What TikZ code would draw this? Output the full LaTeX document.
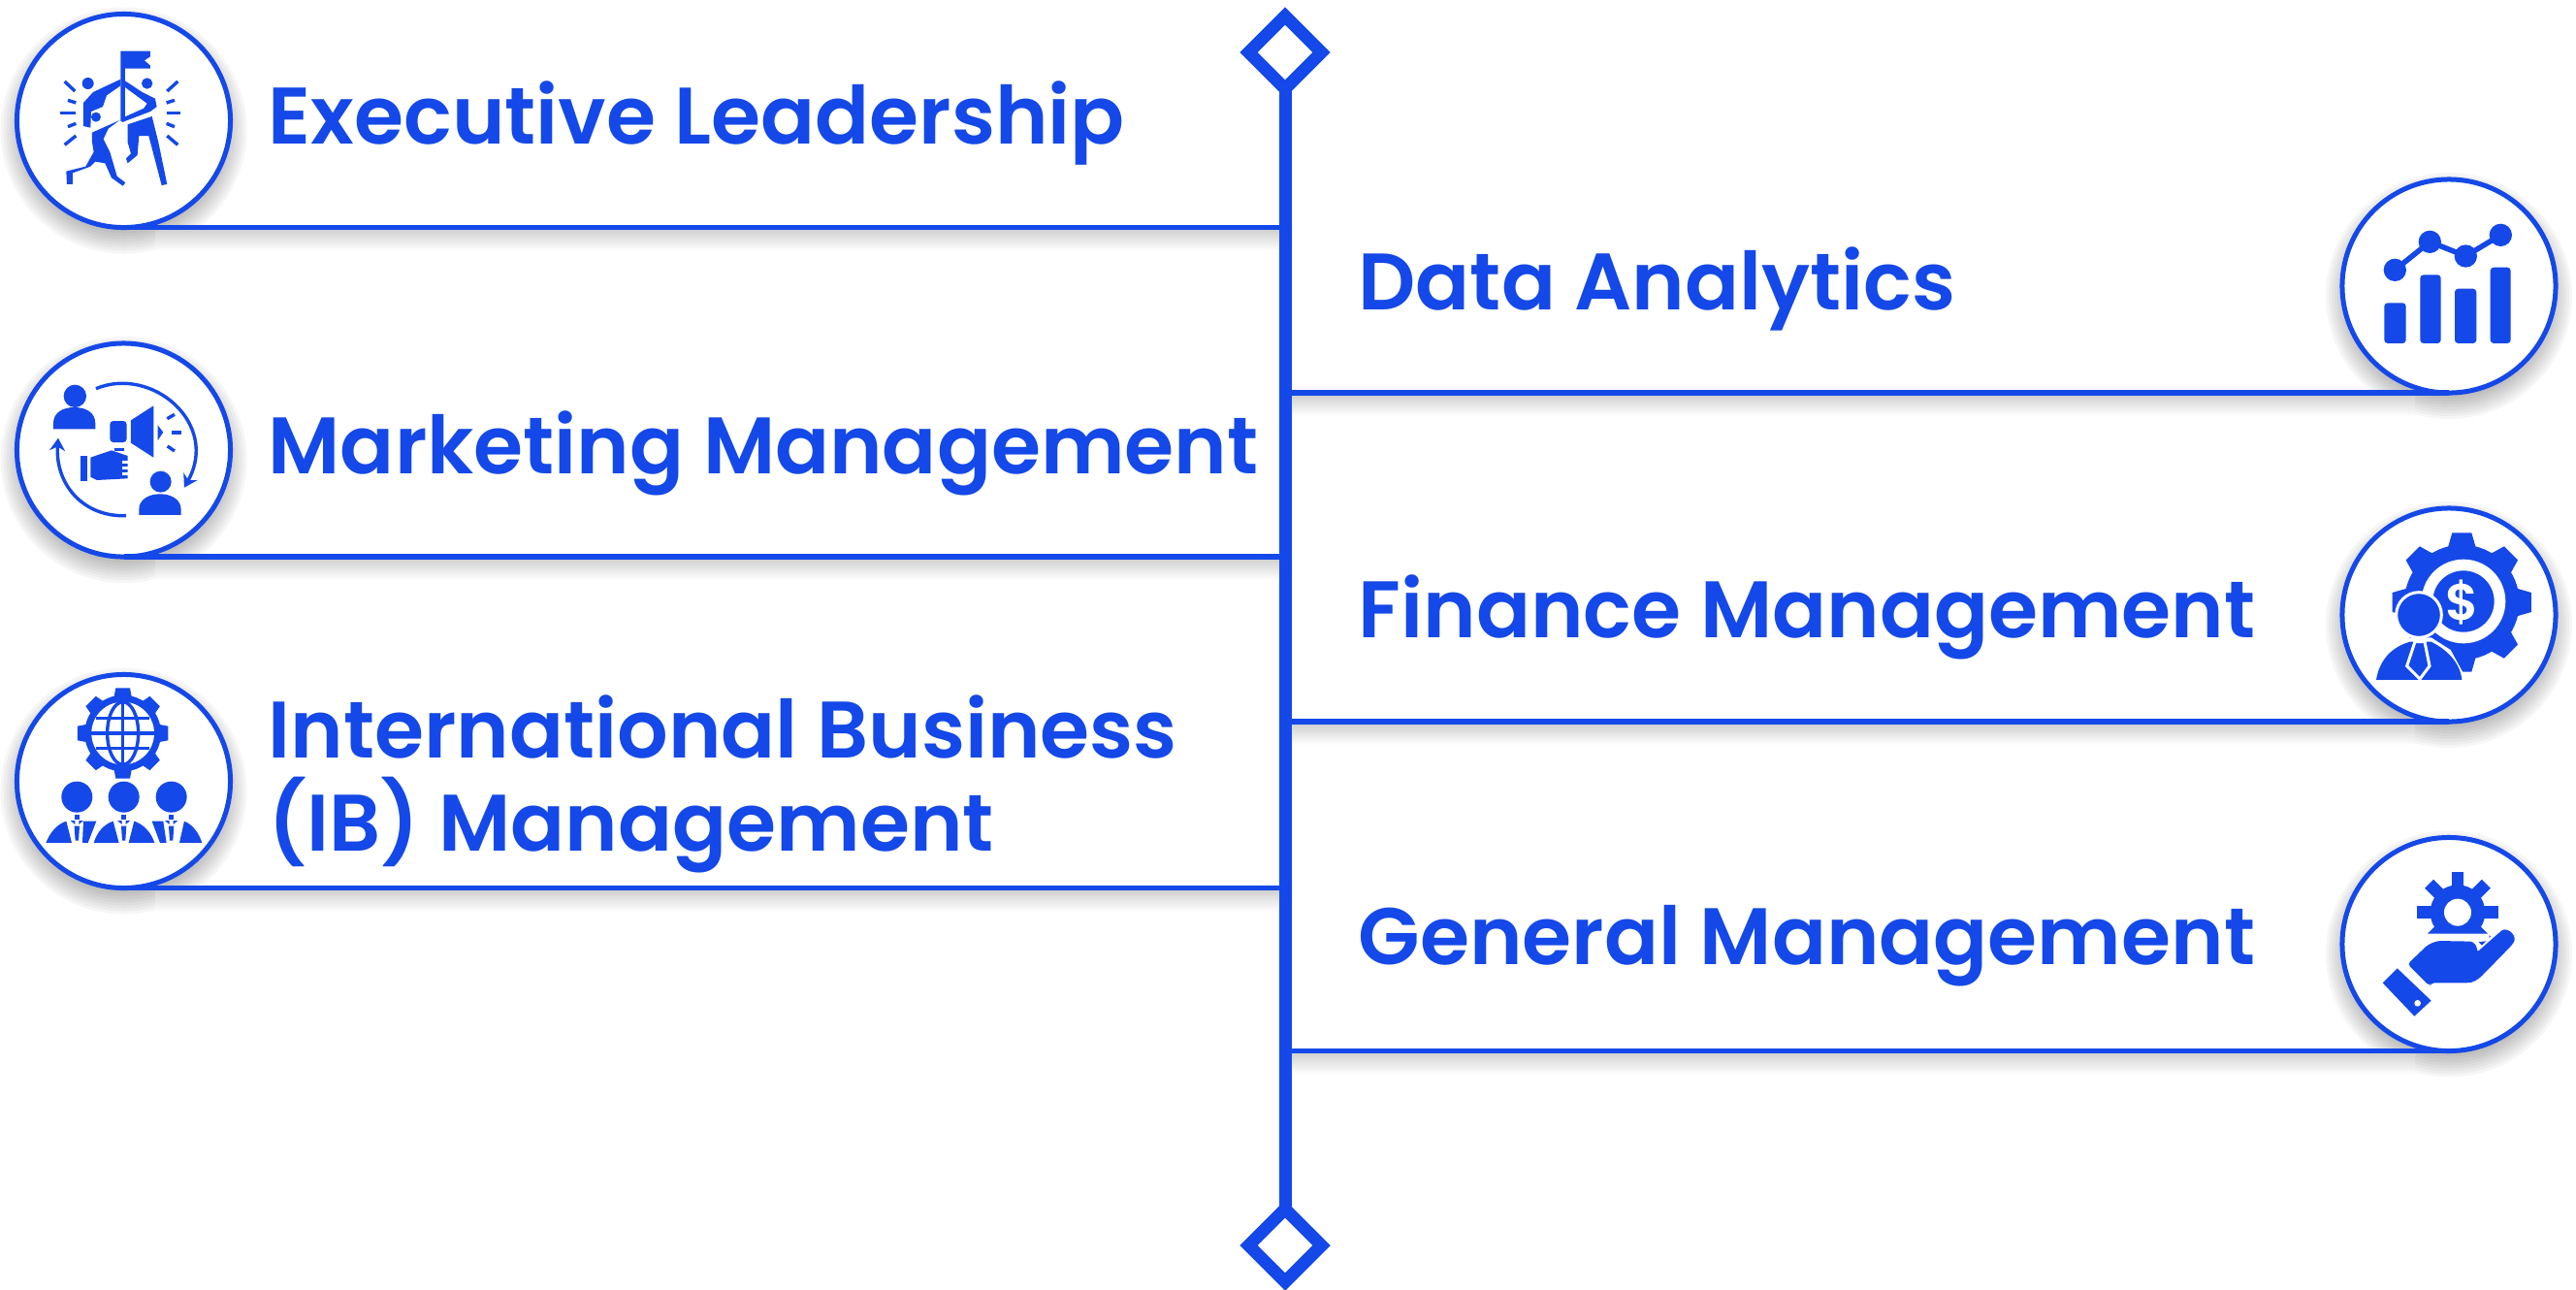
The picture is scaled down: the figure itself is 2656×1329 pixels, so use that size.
\documentclass[tikz,border=0pt]{standalone}
\usepackage{fontspec}
\newfontfamily\labelfont{Poppins SemiBold}
\usetikzlibrary{shapes.geometric,arrows.meta}
\definecolor{brand}{HTML}{1448E8}
\tikzset{
	badge/.style={circle,draw=brand,line width=0.05cm,fill=white,minimum size=2.2cm,inner sep=0pt,outer sep=0pt},
	endmark/.style={diamond,draw=brand,line width=0.13cm,fill=white,minimum width=0.75cm,minimum height=0.75cm,inner sep=0pt,outer sep=0pt},
	rule/.style={draw=brand,line width=0.055cm},
	spine/.style={draw=brand,line width=0.13cm},
	caption/.style={anchor=base west,inner sep=0pt,text=brand,align=left,font=\labelfont\fontsize{23.5}{27.3}\selectfont},
	icon/.style={fill=brand,draw=none},
	thin stroke/.style={draw=brand,line width=0.034cm},
	cutout/.style={draw=white,line width=0.03cm},
	zoomed/.style={shift={#1},scale=0.3333},
}
\begin{document}
\begin{tikzpicture}[x=0.01cm,y=-0.01cm]
	\useasboundingbox (0,0) rectangle (2656,1329);

	\foreach \cx/\cy in {127.5/124.5,127.5/464,127.5/805.5,2525/295,2525/634,2525/973.5}{
		\foreach \rad in {100,103,...,127}{
			\fill[black,opacity=0.035] (\cx,\cy+10) circle [radius=\rad];
		}
	}
	\foreach \xa/\xb/\ly in {160/1325/234.5,160/1325/574,160/1325/915.5,1325/2490/405,1325/2490/744,1325/2490/1083.5}{
		\shade[top color=black!20,bottom color=white] (\xa,\ly) rectangle (\xb,\ly+24);
	}

	\node[endmark] (topmark) at (1325,54) {};
	\node[endmark] (bottommark) at (1325,1284) {};
	\draw[spine] (topmark) -- (bottommark);

	\node[badge] (exec) at (127.5,124.5) {};
	\node[badge] (mktg) at (127.5,464) {};
	\node[badge] (intl) at (127.5,805.5) {};
	\node[badge] (data) at (2525,295) {};
	\node[badge] (fin) at (2525,634) {};
	\node[badge] (gen) at (2525,973.5) {};

	\draw[rule] (exec.south) -- (exec.south -| topmark.center);
	\draw[rule] (mktg.south) -- (mktg.south -| topmark.center);
	\draw[rule] (intl.south) -- (intl.south -| topmark.center);
	\draw[rule] (data.south) -- (data.south -| topmark.center);
	\draw[rule] (fin.south) -- (fin.south -| topmark.center);
	\draw[rule] (gen.south) -- (gen.south -| topmark.center);

	\node[caption] (execlabel) at (276,148.5) {Executive Leadership};
	\node[caption] (mktglabel) at (276,488) {Marketing Management};
	\node[caption] (intllabel) at (276,877.5) {International Business\\(IB) Management};
	\node[caption] (datalabel) at (1400,319.5) {Data Analytics};
	\node[caption] (finlabel) at (1400,657.5) {Finance Management};
	\node[caption] (genlabel) at (1400,994.5) {General Management};

	\begin{scope}[zoomed={(0,0)}]
		\fill[icon] (373,158) -- (465,158) -- (465,175) -- (447,187) -- (465,203) -- (465,212) -- (387,212) -- (387,375) -- (373,375) -- cycle;
		\fill[icon] (272,258) circle [radius=18];
		\fill[icon] (455,258) circle [radius=17];
		\fill[icon] (258,318) -- (288,285) -- (373,245) -- (373,265) -- (330,295) -- (318,330) -- (282,345) -- (280,395) -- (258,390) -- cycle;
		\fill[icon] (387,250) -- (440,285) -- (480,305) -- (485,330) -- (465,345) -- (378,378) -- (378,365) -- (445,335) -- (455,320) -- (387,270) -- cycle;
		\fill[icon] (395,385) -- (470,360) -- (490,440) -- (517,570) -- (500,573) -- (460,420) -- (430,420) -- (425,480) -- (395,505) -- (390,490) -- (405,475) -- (395,440) -- cycle;
		\fill[icon] (297,362) circle [radius=15];
		\fill[icon] (285,410) -- (370,372) -- (335,398) -- (320,430) -- (340,470) -- (362,545) -- (388,565) -- (380,575) -- (345,550) -- (325,505) -- (295,500) -- (280,515) -- (225,535) -- (225,570) -- (207,570) -- (205,530) -- (265,515) -- (290,470) -- (285,440) -- cycle;
		\foreach \xa/\ya/\xb/\yb in {200/252/232/282,210/310/235/318,185/350/235/350,210/392/235/382,200/448/235/420,550/252/517/282,540/310/515/318,515/350/558/350,515/382/540/392,550/448/517/420}{
			\draw[thin stroke] (\xa,\ya) -- (\xb,\yb);
		}
	\end{scope}

	\begin{scope}[zoomed={(0,330)}]
		\fill[icon] (232,235) circle [radius=35];
		\fill[icon] (165,337) -- (165,320) .. controls (165,285) and (195,270) .. (230,270) .. controls (265,270) and (295,285) .. (295,320) -- (295,337) -- cycle;
		\fill[icon] (497,500) circle [radius=33];
		\fill[icon] (430,603) -- (430,586) .. controls (430,555) and (460,538) .. (495,538) .. controls (530,538) and (560,555) .. (560,586) -- (560,603) -- cycle;
		\draw[thin stroke,-{Stealth[length=0.13cm,width=0.16cm]}] (297,212) .. controls (470,140) and (680,320) .. (570,518);
		\draw[thin stroke,-{Stealth[length=0.13cm,width=0.16cm]}] (390,605) .. controls (260,610) and (170,510) .. (180,365);
		\fill[icon] (405,310) -- (475,265) -- (475,425) -- (405,380) -- cycle;
		\fill[icon,rounded corners=1pt] (340,312) rectangle (392,378);
		\fill[icon] (488,325) -- (505,347) -- (488,372) -- cycle;
		\draw[thin stroke] (517,305) -- (540,292);
		\draw[thin stroke] (530,348) -- (560,348);
		\draw[thin stroke] (518,390) -- (540,405);
		\fill[icon] (355,395) rectangle (385,405);
		\fill[icon] (248,420) rectangle (270,497);
		\fill[icon] (280,425) -- (345,403) -- (395,420) -- (395,490) -- (300,495) -- (280,485) -- cycle;
		\foreach \ny in {438,458,476}{
			\draw[cutout] (378,\ny) -- (397,\ny);
		}
	\end{scope}

	\begin{scope}[zoomed={(0,670)}]
		\foreach \a in {0,45,...,315}{
			\fill[icon,rotate around={\a:(380,258)}] (358,118) -- (402,118) -- (410,160) -- (350,160) -- cycle;
		}
		\fill[icon] (380,258) circle [radius=118];
		\fill[white] (380,258) circle [radius=97];
		\draw[thin stroke] (380,258) ellipse [x radius=48,y radius=97];
		\draw[thin stroke] (380,161) -- (380,355);
		\draw[thin stroke] (283,258) -- (477,258);
		\draw[thin stroke] (297,212) -- (463,212);
		\draw[thin stroke] (297,304) -- (463,304);
		\foreach \hx in {238,383,530}{
			\fill[icon] (\hx,455) circle [radius=48];
			\fill[icon] (\hx-8,510) rectangle (\hx+8,524);
			\fill[icon] (\hx-8,545) -- (\hx+8,545) -- (\hx+5,590) -- (\hx-5,590) -- cycle;
			\fill[icon] (\hx-20,528) -- (\hx-6,528) -- (\hx-6,540) -- cycle;
			\fill[icon] (\hx+20,528) -- (\hx+6,528) -- (\hx+6,540) -- cycle;
		}
		\fill[icon] (142,597) .. controls (155,565) and (175,540) .. (205,530) -- (222,597) -- cycle;
		\fill[icon] (255,597) -- (258,530) -- (298,530) -- (272,597) -- cycle;
		\fill[icon] (290,597) .. controls (300,565) and (320,540) .. (350,530) -- (368,597) -- cycle;
		\fill[icon] (398,597) -- (415,530) .. controls (445,540) and (468,565) .. (478,597) -- cycle;
		\fill[icon] (495,597) -- (470,530) -- (505,530) -- (515,597) -- cycle;
		\fill[icon] (555,597) -- (570,530) .. controls (595,540) and (615,565) .. (625,597) -- cycle;
	\end{scope}

	\begin{scope}[zoomed={(2390,170)}]
		\fill[icon,rounded corners=1pt] (205,427) rectangle (272,552);
		\fill[icon,rounded corners=1pt] (316,340) rectangle (380,552);
		\fill[icon,rounded corners=1pt] (423,383) rectangle (490,552);
		\fill[icon,rounded corners=1pt] (533,317) rectangle (596,552);
		\draw[thin stroke,line width=0.055cm] (238,325) -- (346,238) -- (457,282) -- (565,217);
		\foreach \dx/\dy in {238/325,346/238,457/282,565/217}{
			\fill[icon] (\dx,\dy) circle [radius=35];
		}
	\end{scope}

	\begin{scope}[zoomed={(2390,510)}]
		\foreach \a in {0,45,...,315}{
			\fill[icon,rotate around={\a:(445,333)}] (415,118) -- (475,118) -- (490,170) -- (400,170) -- cycle;
		}
		\fill[icon] (445,333) circle [radius=178];
		\fill[white] (450,330) circle [radius=130];
		\fill[icon] (450,330) circle [radius=95];
		\node[inner sep=0pt,text=white,font=\labelfont\fontsize{15}{18}\selectfont] (dollar) at (447,332) {\$};
		\fill[white] (215,590) -- (240,490) -- (285,442) -- (350,442) -- (410,480) -- (470,590) -- cycle;
		\fill[icon] (180,573) .. controls (190,510) and (230,470) .. (285,455) -- (350,455) .. controls (400,480) and (440,520) .. (445,573) -- cycle;
		\fill[icon,draw=white,line width=0.03cm] (300,455) -- (330,455) -- (345,530) -- (315,570) -- (275,530) -- cycle;
		\fill[icon,draw=white,line width=0.03cm] (312,372) circle [radius=70];
	\end{scope}

	\begin{scope}[zoomed={(2390,850)}]
		\foreach \a in {0,45,...,315}{
			\fill[icon,rotate around={\a:(432,272)}] (413,147) -- (451,147) -- (451,200) -- (413,200) -- cycle;
		}
		\fill[icon] (432,272) circle [radius=85];
		\fill[white] (432,272) circle [radius=42];
		\fill[white] (320,338) -- (530,338) -- (530,360) -- (320,380) -- cycle;
		\fill[icon,rounded corners=1pt] (277,432) -- (340,372) -- (370,360) -- (480,362) -- (495,385) -- (490,397) -- (560,335) .. controls (585,315) and (620,345) .. (598,375) -- (515,460) .. controls (495,480) and (480,490) .. (450,490) -- (350,490) -- (345,500) -- cycle;
		\fill[icon] (245,445) -- (350,545) -- (298,593) -- (200,490) -- cycle;
		\fill[white] (308,553) circle [radius=10];
	\end{scope}
\end{tikzpicture}
\end{document}
